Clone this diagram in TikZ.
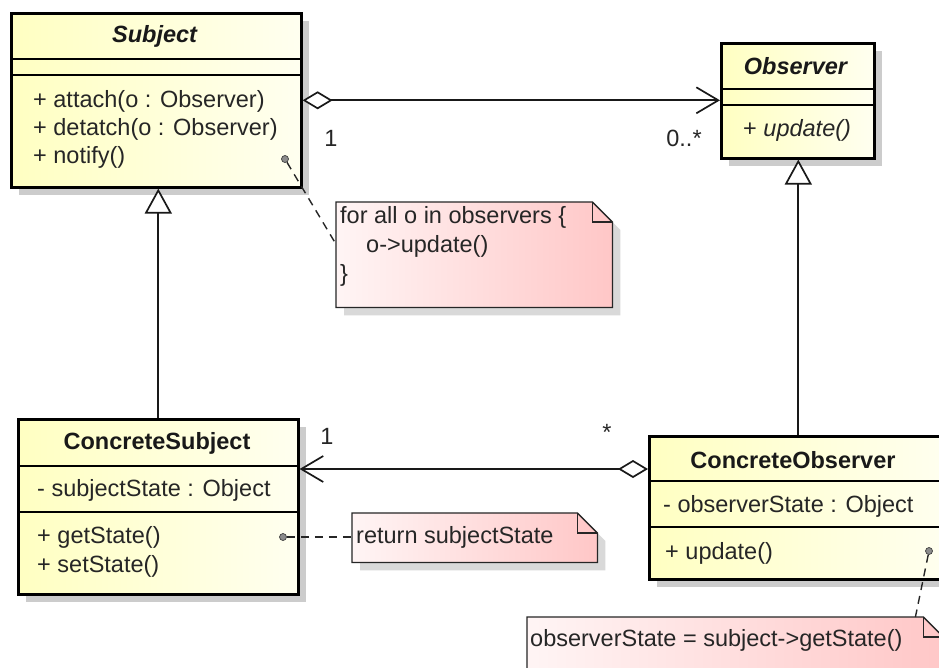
\documentclass[tikz,border=0pt]{standalone}
\usepackage{fontspec}
\setmainfont{Liberation Sans}
\usetikzlibrary{arrows.meta,shadows,calc}
\begin{document}
\begin{tikzpicture}[x=1pt,y=-1pt,
  font=\fontsize{23.5}{28}\selectfont,
  cls/.style={draw=black, line width=2.6pt, left color=yellow!24, right color=yellow!6,
    inner sep=0pt, anchor=north west,
    drop shadow={shadow xshift=8pt, shadow yshift=-8pt, fill=black!20, opacity=1}},
  sep/.style={line width=1.3pt},
  ttl/.style={inner sep=0pt, text=black!90, font=\fontsize{23.5}{28}\selectfont\bfseries},
  member/.style={anchor=west, inner sep=0pt, text=black!85},
  mult/.style={inner sep=0pt, text=black!85},
  conn/.style={line width=1.8pt, draw=black!90},
  gen/.style={conn, -{Triangle[open, fill=white, length=25pt, width=27pt, line width=1.7pt]}},
  agg/.style={conn, {Diamond[open, fill=white, length=30pt, width=18pt, line width=1.7pt]}-{Straight Barb[length=22pt, width=26pt, line width=1.7pt]}},
  notebox/.style={draw=none, inner sep=0pt, anchor=north west},
  notefill/.style={draw=black!85, line width=1.3pt, left color=red!4, right color=red!22,
    drop shadow={shadow xshift=8pt, shadow yshift=-8pt, fill=black!15, opacity=1}},
  fold/.style={draw=black!85, line width=1.3pt},
  notelink/.style={draw=black!85, dashed, dash pattern=on 8pt off 6pt, line width=1.4pt},
  dotn/.style={circle, fill=black!45, draw=black!75, line width=0.7pt, minimum size=7pt, inner sep=0pt}
]
\useasboundingbox (0,0) rectangle (939,667);
\clip (0,0) rectangle (939,667);
\fill[white] (0,0) rectangle (939,667);

% ---------- Subject ----------
\node[cls, minimum width=290pt, minimum height=174pt] (subj) at (10,12) {};
\draw[sep] (subj.west |- 0,59) -- (subj.east |- 0,59);
\draw[sep] (subj.west |- 0,75) -- (subj.east |- 0,75);
\node[ttl] (subjT) at (155,36) {\textit{Subject}};
\node[member] (subjM1) at (33,101) {+ attach(o : Observer)};
\node[member] (subjM2) at (33,129) {+ detatch(o : Observer)};
\node[member] (subjM3) at (33,157) {+ notify()};
\node[dotn] (d1) at (285,159) {};

% ---------- Observer ----------
\node[cls, minimum width=153pt, minimum height=115pt] (obs) at (720,42) {};
\draw[sep] (obs.west |- 0,89) -- (obs.east |- 0,89);
\draw[sep] (obs.west |- 0,105) -- (obs.east |- 0,105);
\node[ttl] (obsT) at (796,66) {\textit{Observer}};
\node[member] (obsM1) at (743,130) {+ \textit{update()}};

% ---------- ConcreteSubject ----------
\node[cls, minimum width=280pt, minimum height=175pt] (csub) at (17,418) {};
\draw[sep] (csub.west |- 0,466) -- (csub.east |- 0,466);
\draw[sep] (csub.west |- 0,512) -- (csub.east |- 0,512);
\node[ttl] (csubT) at (157,443) {ConcreteSubject};
\node[member] (csubA1) at (37,490) {- subjectState : Object};
\node[member] (csubM1) at (37,537) {+ getState()};
\node[member] (csubM2) at (37,566) {+ setState()};
\node[dotn] (d2) at (283,537) {};

% ---------- ConcreteObserver ----------
\node[cls, minimum width=300pt, minimum height=143pt] (cobs) at (648,435) {};
\draw[sep] (cobs.west |- 0,481) -- (cobs.east |- 0,481);
\draw[sep] (cobs.west |- 0,527) -- (cobs.east |- 0,527);
\node[ttl] (cobsT) at (793,460) {ConcreteObserver};
\node[member] (cobsA1) at (663,506) {- observerState : Object};
\node[member] (cobsM1) at (665,553) {+ update()};
\node[dotn] (d3) at (929,551) {};

% ---------- Connectors ----------
\draw[agg] (subj.east) -- (subj.east -| obs.west);
\node[mult] (m1) at (331,138) {1};
\node[mult] (m2) at (684,138) {0..*};

\draw[gen] (csub.north) -- (csub.north |- subj.south);
\draw[gen] ([xshift=-1pt]cobs.north) -- ([xshift=-1pt]cobs.north |- obs.south);

\draw[conn, {Straight Barb[length=22pt, width=26pt, line width=1.7pt]}-{Diamond[open, fill=white, length=30pt, width=18pt, line width=1.7pt]}]
  ([yshift=-51pt]csub.north east) -- ([yshift=-51pt]csub.north east -| cobs.west);
\node[mult] (m3) at (327,436) {1};
\node[mult] (m4) at (607,432) {*};

% ---------- Note 1 ----------
\node[notebox, minimum width=276pt, minimum height=105pt] (n1) at (336,202) {};
\path[notefill] (n1.north west) -- ([xshift=-20pt]n1.north east) -- ([yshift=-20pt]n1.north east)
  -- (n1.south east) -- (n1.south west) -- cycle;
\draw[fold] ([xshift=-20pt]n1.north east) -- ([xshift=-20pt,yshift=-20pt]n1.north east) -- ([yshift=-20pt]n1.north east);
\node[member] (n1a) at (340,217) {for all o in observers \{};
\node[member] (n1b) at (366,246) {o->update()};
\node[member] (n1c) at (340,275) {\}};
\draw[notelink] (d1) -- ($(n1.north west)!0.4!(n1.south west)$);

% ---------- Note 2 ----------
\node[notebox, minimum width=245pt, minimum height=49pt] (n2) at (352,513) {};
\path[notefill] (n2.north west) -- ([xshift=-20pt]n2.north east) -- ([yshift=-20pt]n2.north east)
  -- (n2.south east) -- (n2.south west) -- cycle;
\draw[fold] ([xshift=-20pt]n2.north east) -- ([xshift=-20pt,yshift=-20pt]n2.north east) -- ([yshift=-20pt]n2.north east);
\node[member] (n2a) at (356,537) {return subjectState};
\draw[notelink] (d2) -- (d2 -| n2.west);

% ---------- Note 3 ----------
\node[notebox, minimum width=416pt, minimum height=62pt] (n3) at (527,617) {};
\path[notefill] (n3.north west) -- ([xshift=-20pt]n3.north east) -- ([yshift=-20pt]n3.north east)
  -- (n3.south east) -- (n3.south west) -- cycle;
\draw[fold] ([xshift=-20pt]n3.north east) -- ([xshift=-20pt,yshift=-20pt]n3.north east) -- ([yshift=-20pt]n3.north east);
\node[member] (n3a) at (530,640) {observerState = subject->getState()};
\coordinate (n3top) at ([xshift=-28pt]n3.north east);
\draw[notelink] (d3) -- (n3top);
\end{tikzpicture}
\end{document}
